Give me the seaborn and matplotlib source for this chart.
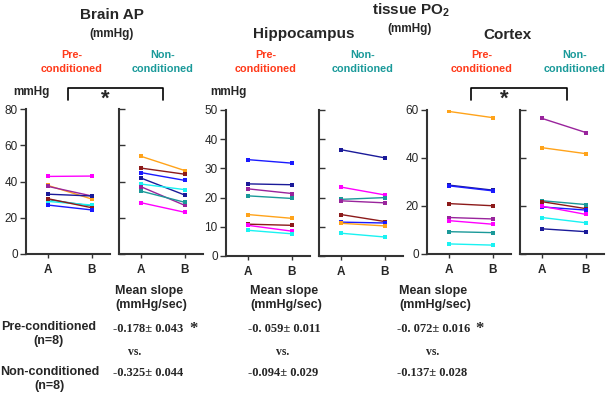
import numpy as np
import pandas as pd
import matplotlib
matplotlib.use('Agg')
import matplotlib.pyplot as plt
import seaborn as sns

# values read at time points A and B, one entry per animal (n=8)
# Brain AP (mmHg)
ap_pre_a = [42.8, 37.8, 37.3, 33.0, 30.0, 29.0, 30.5, 27.0]
ap_pre_b = [43.0, 30.3, 32.0, 32.0, 26.5, 27.0, 25.5, 24.3]
ap_pre_colors = ['magenta', 'orange', 'purple', 'navy', 'teal', 'cyan', 'brown', 'blue']
ap_non_a = [53.9, 47.4, 44.9, 41.9, 38.6, 37.1, 34.7, 28.3]
ap_non_b = [46.0, 44.0, 40.6, 32.5, 35.5, 26.8, 28.5, 23.0]
ap_non_colors = ['orange', 'brown', 'blue', 'navy', 'cyan', 'purple', 'teal', 'magenta']

# Hippocampus tissue PO2 (mmHg)
hip_pre_a = [33.0, 24.7, 23.0, 20.6, 14.2, 10.9, 10.5, 8.8]
hip_pre_b = [31.8, 24.4, 21.4, 19.7, 12.9, 10.5, 8.5, 7.6]
hip_pre_colors = ['blue', 'navy', 'purple', 'teal', 'orange', 'brown', 'magenta', 'cyan']
hip_non_a = [36.4, 23.6, 19.4, 18.9, 14.2, 11.6, 11.2, 7.8]
hip_non_b = [33.6, 20.9, 20.0, 18.2, 11.8, 11.3, 10.3, 6.5]
hip_non_colors = ['navy', 'magenta', 'teal', 'purple', 'brown', 'blue', 'orange', 'cyan']

# Cortex tissue PO2 (mmHg)
ctx_pre_a = [59.4, 28.7, 28.4, 21.0, 15.2, 13.9, 9.3, 4.2]
ctx_pre_b = [56.8, 26.6, 26.3, 20.1, 14.6, 12.4, 8.9, 3.7]
ctx_pre_colors = ['orange', 'navy', 'blue', 'brown', 'purple', 'magenta', 'teal', 'cyan']
ctx_non_a = [56.5, 44.3, 22.2, 21.8, 19.6, 19.9, 15.2, 10.5]
ctx_non_b = [50.6, 41.8, 20.6, 18.9, 18.3, 16.5, 13.0, 9.3]
ctx_non_colors = ['purple', 'orange', 'teal', 'brown', 'blue', 'magenta', 'cyan', 'navy']

time_labels = ['A', 'B']

# mean slopes (mmHg/sec)
slope_pre = ['-0.178\u00b1 0.043', '-0. 059\u00b1 0.011', '-0. 072\u00b1 0.016']
slope_non = ['-0.325\u00b1 0.044', '-0.094\u00b1 0.029', '-0.137\u00b1 0.028']

pal = {'magenta': '#ff00ff', 'orange': '#ffa31a', 'purple': '#99249c',
       'navy': '#1a1a99', 'brown': '#8c1a1a', 'cyan': '#1af2f2',
       'teal': '#1a9999', 'blue': '#1a1aff'}

sns.set_style('ticks')
plt.rcParams['font.family'] = ['Liberation Sans', 'DejaVu Sans']
plt.rcParams['mathtext.default'] = 'regular'

W, H = 610, 401
fig = plt.figure(figsize=(6.1, 4.01), dpi=100)


def px(x, y):
    return x / W, 1 - y / H


def draw_panel(left, top, bottom, a_vals, b_vals, colors, ymax, step, first):
    ax = fig.add_axes([left / W, 1 - bottom / H, 84 / W, (bottom - top) / H])
    n = len(a_vals)
    df = pd.DataFrame({
        'subject': ['s%d' % i for i in range(n)] * 2,
        'time': [0] * n + [1] * n,
        'value': list(a_vals) + list(b_vals),
    })
    sns.lineplot(data=df, x='time', y='value', hue='subject',
                 palette=[pal[c] for c in colors], estimator=None,
                 marker='s', markersize=3, markeredgewidth=0,
                 linewidth=1, legend=False, ax=ax)
    ax.set_xlim(-0.5, 1.41)
    ax.set_ylim(0, ymax)
    ax.set_yticks(np.arange(0, ymax + 1, step))
    ax.set_xticks([0, 1])
    ax.set_xticklabels(time_labels, fontsize=8.5, fontweight='bold')
    ax.set_xlabel('')
    ax.set_ylabel('')
    for s in ['top', 'right']:
        ax.spines[s].set_visible(False)
    for s in ['left', 'bottom']:
        ax.spines[s].set_color('#333333')
        ax.spines[s].set_linewidth(1.5)
    ax.tick_params(axis='x', length=3, width=1, color='#333333', pad=4)
    if first:
        ax.tick_params(axis='y', direction='out', length=4, width=1,
                       color='#333333', labelsize=8.5, pad=2)
    else:
        ax.tick_params(axis='y', direction='in', length=4, width=1,
                       color='#333333', labelleft=False)
    return ax


draw_panel(26, 109, 254, ap_pre_a, ap_pre_b, ap_pre_colors, 80, 20, True)
draw_panel(119, 109, 254, ap_non_a, ap_non_b, ap_non_colors, 80, 20, False)
draw_panel(226, 110, 256, hip_pre_a, hip_pre_b, hip_pre_colors, 50, 10, True)
draw_panel(319, 110, 256, hip_non_a, hip_non_b, hip_non_colors, 50, 10, False)
draw_panel(427, 110, 254, ctx_pre_a, ctx_pre_b, ctx_pre_colors, 60, 20, True)
draw_panel(520, 110, 254, ctx_non_a, ctx_non_b, ctx_non_colors, 60, 20, False)


def label(x, y, s, **kw):
    kw.setdefault('ha', 'center')
    kw.setdefault('va', 'center')
    fig.text(*px(x, y), s, **kw)


# headers
label(112, 15, 'Brain AP', fontsize=11, fontweight='bold')
label(112, 34, '(mmHg)', fontsize=8.5, fontweight='bold')
label(411, 10, 'tissue PO$_2$', fontsize=11, fontweight='bold')
label(410, 29, '(mmHg)', fontsize=8.5, fontweight='bold')
label(304, 34, 'Hippocampus', fontsize=11, fontweight='bold')
label(508, 35, 'Cortex', fontsize=11, fontweight='bold')

for pre_x, non_x in [(72, 163), (266, 363), (482, 575)]:
    label(pre_x, 62, 'Pre-\nconditioned', fontsize=7.8, fontweight='bold',
          color='#ff3a1a', linespacing=1.55)
    label(non_x, 62, 'Non-\nconditioned', fontsize=7.8, fontweight='bold',
          color='#1a9a9a', linespacing=1.55)

for x in [31, 228]:
    label(x, 92, 'mmHg', fontsize=8.5, fontweight='bold')

# significance brackets
for x0, x1, xs in [(68, 163, 105), (471, 567, 504)]:
    xa, ya = px(x0, 100)
    xb, yb = px(x0, 88)
    xc, _ = px(x1, 88)
    fig.add_artist(plt.Line2D([xa, xb, xc, xc], [ya, yb, yb, ya],
                              color='black', linewidth=1.2))
    label(xs, 99, '*', fontsize=16, fontweight='bold')

# slope table
for x in [115, 250, 399]:
    label(x, 298, 'Mean slope\n(mmHg/sec)', fontsize=9, fontweight='bold',
          ha='left', linespacing=1.3)

label(49, 334, 'Pre-conditioned\n(n=8)', fontsize=9, fontweight='bold',
      linespacing=1.2)
label(50, 379, 'Non-conditioned\n(n=8)', fontsize=9, fontweight='bold',
      linespacing=1.2)

serif = ['Liberation Serif', 'DejaVu Serif']
for x, vx, pre, non in zip([113, 248, 397], [135, 283, 433], slope_pre, slope_non):
    label(x, 329, pre, fontsize=9, fontweight='bold', family=serif, ha='left')
    label(vx, 352, 'vs.', fontsize=8.5, fontweight='bold', family=serif)
    label(x, 373, non, fontsize=9, fontweight='bold', family=serif, ha='left')

for x in [193, 479]:
    label(x, 329, '*', fontsize=12, fontweight='bold', family=serif)

fig.savefig('out.png', dpi=100)
